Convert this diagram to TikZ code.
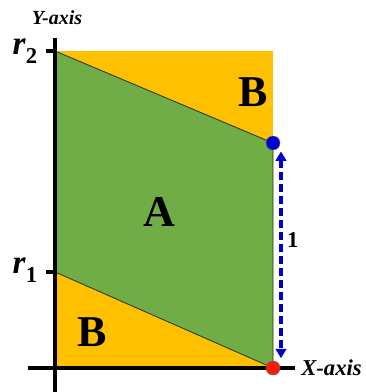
\documentclass[tikz,border=0pt]{standalone}
\usepackage{fontspec}
\setmainfont{Liberation Serif}
\usetikzlibrary{arrows.meta}
\definecolor{regionB}{RGB}{255,192,0}
\definecolor{regionA}{RGB}{112,173,71}
\newcommand{\rsub}[1]{\textit{r}\raisebox{-0.28em}{\fontsize{17}{17}\selectfont #1}}
\begin{document}
\begin{tikzpicture}[
    x=0.75pt, y=-0.75pt,
    axis/.style={line width=3.6pt},
    tick/.style={line width=3.6pt},
    region/.style={font=\bfseries\fontsize{33}{33}\selectfont},
    axislabel/.style={font=\bfseries\itshape\fontsize{15}{15}\selectfont, inner sep=0pt},
    rlabel/.style={font=\bfseries\fontsize{25}{25}\selectfont, inner sep=0pt},
    dot/.style={circle, minimum size=10.5pt, inner sep=0pt, draw=black!60, line width=0.3pt},
]
\useasboundingbox (0,0) rectangle (365,392);
% corners of the box
\coordinate (O) at (55,368);
\coordinate (R2) at (55,51);
\coordinate (R1) at (55,272);
\coordinate (TR) at (273,51);
\coordinate (P) at (273,143);
\coordinate (Q) at (273,368);
% regions
\fill[regionB] (O) rectangle (TR);
\filldraw[fill=regionA, draw=black!70!regionA, line width=0.6pt]
    (R2) -- (P) -- (Q) -- (R1) -- cycle;
\node[region] (A) at (159,212) {A};
\node[region] (Btop) at (253,92) {B};
\node[region] (Bbot) at (92,332) {B};
% axes
\draw[axis] (55,38) -- (55,392);
\draw[axis] (28,368) -- (295,368);
\draw[tick] (46,51) -- (R2);
\draw[tick] (46,272) -- (R1);
\node[rlabel] (r2) at (25,51) {\rsub{2}};
\node[rlabel] (r1) at (25,270) {\rsub{1}};
\node[axislabel] (ylab) at (57,18) {Y-axis};
\node[axislabel, anchor=west, font=\bfseries\itshape\fontsize{17}{17}\selectfont] (xlab) at (301,368) {X-axis};
% points and unit height
\node[dot, fill=blue!85!black] (top) at (P) {};
\node[dot, fill=red!80!orange] (bot) at (Q) {};
\draw[{Triangle[width=8pt,length=7pt]}-{Triangle[width=8pt,length=7pt]},
      blue!80!black, line width=2.6pt, dash pattern=on 6pt off 3pt]
    ([xshift=6pt,yshift=-1pt]top.south) -- node[pos=0.43, right, black, font=\bfseries\fontsize{17}{17}\selectfont] (one) {1}
    ([xshift=6pt,yshift=2pt]bot.north);
\end{tikzpicture}
\end{document}
